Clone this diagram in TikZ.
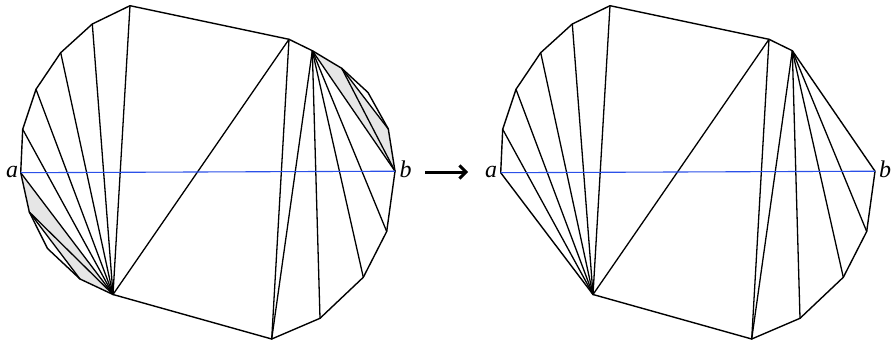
\documentclass[tikz,border=0pt]{standalone}
\usepackage{fontspec}
\setmainfont{Liberation Serif}
\usetikzlibrary{arrows.meta}
\definecolor{shadegray}{HTML}{E6E6E6}
\definecolor{lineblue}{HTML}{2B50E8}
\begin{document}
\begin{tikzpicture}[x=1pt,y=-1pt,
  edge/.style={line width=1.4pt, line join=round, line cap=round},
  diag/.style={line width=1.3pt, line cap=round},
  shaded/.style={fill=shadegray},
  axisline/.style={lineblue, line width=1.1pt},
  lbl/.style={font=\fontsize{24}{24}\selectfont\itshape, inner sep=0pt, anchor=base},
  bigarrow/.style={line width=3pt, -{Straight Barb[length=6.5pt,width=13pt,line width=3pt]}}]
\useasboundingbox (0,0) rectangle (893,342);
\foreach \p/\s in {L/0,R/480}{
  \foreach \n/\x/\y in {a/20.7/172.7, u1/22.7/129.3, u2/36/89.3, u3/60.7/52.7, u4/92.3/24,
      u5/130/5.7, T1/289/39.3, T2/312.3/50.7, w1/341.7/68.3, w2/368/92.5, w3/388.3/129,
      b/395/171.2, r1/386.7/231.5, r2/363.3/277.3, r3/320/318.3, B1/271.7/339,
      A1/113/294.5, v3/80/279, v2/47.5/248.5, v1/29.3/212}{
    \coordinate (\p\n) at (\x+\s,\y);
  }
}
% shaded triangles (left polygon)
\fill[shaded] (La) -- (Lv1) -- (LA1) -- cycle;
\fill[shaded] (Lv1) -- (Lv3) -- (LA1) -- cycle;
\fill[shaded] (LT2) -- (Lw1) -- (Lb) -- cycle;
\fill[shaded] (Lw1) -- (Lw3) -- (Lb) -- cycle;
% left polygon
\draw[edge] (La) -- (Lu1) -- (Lu2) -- (Lu3) -- (Lu4) -- (Lu5) -- (LT1) -- (LT2) -- (Lw1) -- (Lw2)
  -- (Lw3) -- (Lb) -- (Lr1) -- (Lr2) -- (Lr3) -- (LB1) -- (LA1) -- (Lv3) -- (Lv2) -- (Lv1) -- cycle;
\foreach \t in {a,u1,u2,u3,u4,u5,T1,v1}{\draw[diag] (LA1) -- (L\t);}
\draw[diag] (Lv1) -- (Lv3);
\draw[diag] (LT1) -- (LB1);
\draw[diag] (LT2) -- (LB1);
\foreach \t in {r3,r2,r1,b}{\draw[diag] (LT2) -- (L\t);}
\draw[diag] (Lw1) -- (Lb);
\draw[diag] (Lw1) -- (Lw3);
\draw[axisline] (La) -- (Lb);
% right polygon
\draw[edge] (Ra) -- (Ru1) -- (Ru2) -- (Ru3) -- (Ru4) -- (Ru5) -- (RT1) -- (RT2) -- (Rb)
  -- (Rr1) -- (Rr2) -- (Rr3) -- (RB1) -- (RA1) -- cycle;
\foreach \t in {u1,u2,u3,u4,u5,T1}{\draw[diag] (RA1) -- (R\t);}
\draw[diag] (RT1) -- (RB1);
\draw[diag] (RT2) -- (RB1);
\foreach \t in {r3,r2,r1}{\draw[diag] (RT2) -- (R\t);}
\draw[axisline] (Ra) -- (Rb);
% labels
\node[lbl] (la) at (12,177.5) {a};
\node[lbl] (lb) at (405.5,177.5) {b};
\node[lbl] (ra) at (491,177.5) {a};
\node[lbl] (rb) at (885,177.5) {b};
\coordinate (arrS) at (425,172);
\coordinate (arrE) at (468,172);
\draw[bigarrow] (arrS) -- (arrE);
\end{tikzpicture}
\end{document}
